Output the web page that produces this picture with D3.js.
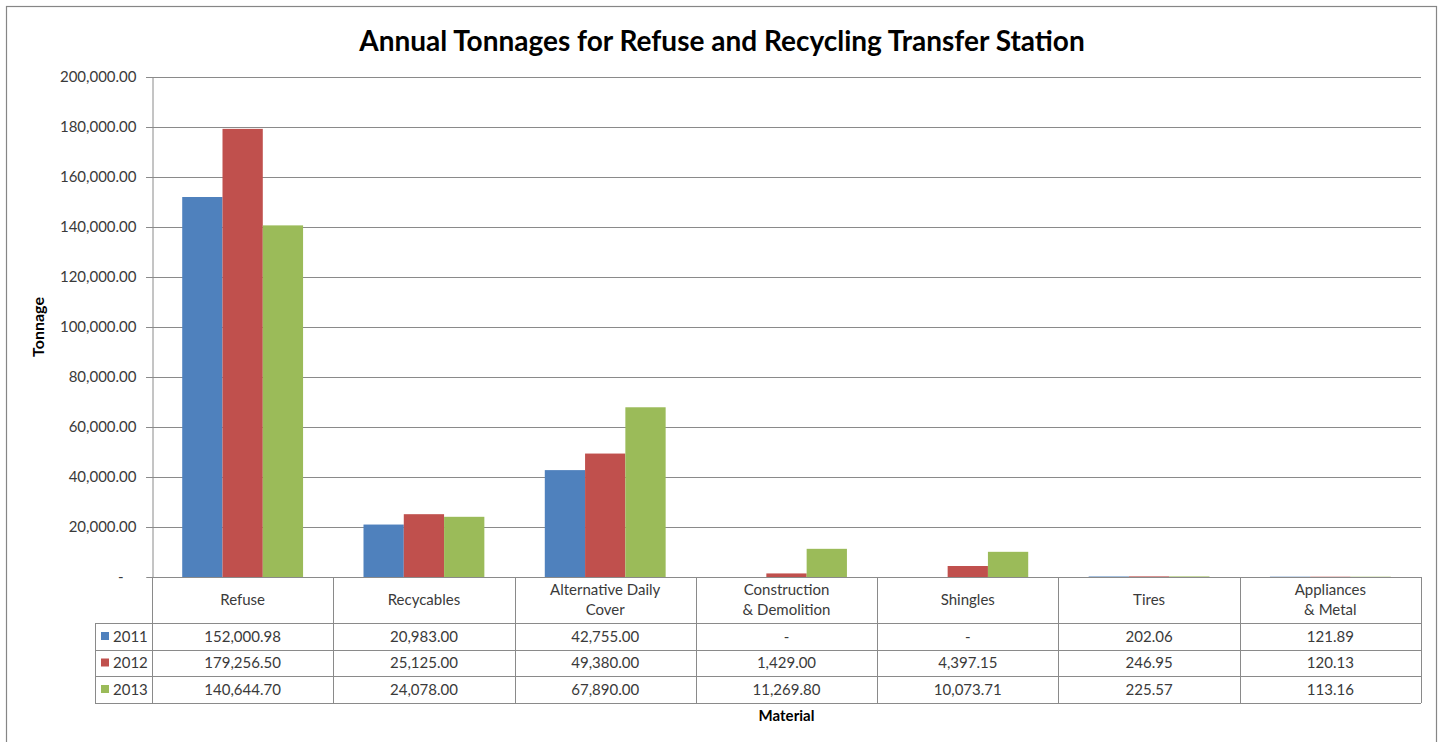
<!DOCTYPE html>
<html lang="en">
<head>
<meta charset="UTF-8">
<title>Annual Tonnages for Refuse and Recycling Transfer Station</title>
<script src="https://cdn.jsdelivr.net/npm/d3@7"></script>
<style>
  body { margin: 0; background: #fff; }
  text { font-family: Lato, "Open Sans", sans-serif; }
</style>
</head>
<body>
<svg id="chart"></svg>
<script>
var width = 1442, height = 742;

var categories = ["Refuse", "Recycables", "Alternative Daily\nCover", "Construction\n& Demolition", "Shingles", "Tires", "Appliances\n& Metal"];
var years = ["2011", "2012", "2013"];
var v2011 = [152000.98, 20983.00, 42755.00, 0, 0, 202.06, 121.89];
var v2012 = [179256.50, 25125.00, 49380.00, 1429.00, 4397.15, 246.95, 120.13];
var v2013 = [140644.70, 24078.00, 67890.00, 11269.80, 10073.71, 225.57, 113.16];
var yTicks = [0, 20000, 40000, 60000, 80000, 100000, 120000, 140000, 160000, 180000, 200000];
var colors = ["#4F81BD", "#C0504D", "#9BBB59"];

var series = [v2011, v2012, v2013];

var plot = { left: 152, right: 1421, top: 77, bottom: 577 };
var rowH = [46, 27, 26, 27];   // header row then one row per year
var legendLeft = 95;

var svg = d3.select("#chart").attr("width", width).attr("height", height);

// outer chart border
svg.append("rect").attr("x", 6.5).attr("y", 6.5).attr("width", 1430).attr("height", 760)
  .attr("fill", "#fff").attr("stroke", "#868686").attr("stroke-width", 1.2);

svg.append("text").attr("x", 722).attr("y", 51).attr("text-anchor", "middle")
  .attr("font-size", 28).attr("font-weight", "bold").attr("fill", "#000")
  .text("Annual Tonnages for Refuse and Recycling Transfer Station");

var y = d3.scaleLinear().domain([0, 200000]).range([plot.bottom, plot.top]);
var x0 = d3.scaleBand().domain(categories).range([plot.left, plot.right]).padding(0);
var x1 = d3.scaleBand().domain(years).range([0, x0.bandwidth()]).paddingInner(0).paddingOuter(0.75);

var fmt = d3.format(",.2f");

// gridlines
svg.append("g").selectAll("line").data(yTicks.filter(function(d) { return d > 0; }))
  .enter().append("line")
  .attr("x1", plot.left - 6).attr("x2", plot.right)
  .attr("y1", function(d) { return Math.round(y(d)) + 0.5; })
  .attr("y2", function(d) { return Math.round(y(d)) + 0.5; })
  .attr("stroke", "#8a8a8a").attr("stroke-width", 1);

// y axis
var yAxis = d3.axisLeft(y).tickValues(yTicks).tickSize(6).tickPadding(10)
  .tickFormat(function(d) { return d === 0 ? "-" : fmt(d); });
var gy = svg.append("g").attr("transform", "translate(" + (plot.left + 0.5) + ",0)").call(yAxis);
gy.select(".domain").attr("stroke", "#8a8a8a");
gy.selectAll(".tick line").attr("stroke", "#8a8a8a");
gy.selectAll(".tick text").attr("font-family", "Lato, sans-serif").attr("font-size", 15).attr("fill", "#3a3a3a");
gy.selectAll(".tick text").filter(function(d) { return d === 0; }).attr("dx", -13);

svg.append("text").attr("transform", "translate(44," + ((plot.top + plot.bottom) / 2) + ") rotate(-90)")
  .attr("text-anchor", "middle").attr("font-size", 16).attr("font-weight", "bold").attr("fill", "#000")
  .text("Tonnage");

// bars
var groups = svg.append("g").selectAll("g").data(years).enter().append("g")
  .attr("fill", function(d, i) { return colors[i]; });
groups.selectAll("rect").data(function(d, i) {
    return categories.map(function(c, j) { return { cat: c, year: d, value: series[i][j] }; });
  })
  .enter().append("rect")
  .attr("x", function(d) { return x0(d.cat) + x1(d.year); })
  .attr("width", x1.bandwidth())
  .attr("y", function(d) { return y(d.value); })
  .attr("height", function(d) { return y(0) - y(d.value); });

// data table
var rowY = [plot.bottom];
rowH.forEach(function(h) { rowY.push(rowY[rowY.length - 1] + h); });
var table = svg.append("g").attr("stroke", "#8a8a8a").attr("stroke-width", 1);

// horizontal lines
table.append("line").attr("x1", plot.left).attr("x2", plot.right).attr("y1", rowY[0] + 0.5).attr("y2", rowY[0] + 0.5);
rowY.slice(1).forEach(function(yy) {
  table.append("line").attr("x1", legendLeft).attr("x2", plot.right).attr("y1", yy + 0.5).attr("y2", yy + 0.5);
});
// vertical lines
table.append("line").attr("x1", legendLeft + 0.5).attr("x2", legendLeft + 0.5).attr("y1", rowY[1]).attr("y2", rowY[4]);
categories.forEach(function(c) {
  var xx = Math.round(x0(c)) + 0.5;
  table.append("line").attr("x1", xx).attr("x2", xx).attr("y1", rowY[0]).attr("y2", rowY[4]);
});
table.append("line").attr("x1", plot.right + 0.5).attr("x2", plot.right + 0.5).attr("y1", rowY[0]).attr("y2", rowY[4]);

// header labels
categories.forEach(function(c) {
  var lines = c.split("\n");
  var cx = x0(c) + x0.bandwidth() / 2;
  var midY = rowY[0] + rowH[0] / 2;
  var t = svg.append("text").attr("text-anchor", "middle").attr("font-size", 15).attr("fill", "#3a3a3a");
  lines.forEach(function(l, k) {
    t.append("tspan").attr("x", cx)
      .attr("y", midY + 5 + (k - (lines.length - 1) / 2) * 20)
      .text(l);
  });
});

// value rows with legend keys
years.forEach(function(yr, i) {
  var cy = rowY[i + 1] + rowH[i + 1] / 2;
  svg.append("rect").attr("x", 101).attr("y", cy - 4.5).attr("width", 8).attr("height", 8).attr("fill", colors[i]);
  svg.append("text").attr("x", 113).attr("y", cy + 5).attr("font-size", 15).attr("fill", "#3a3a3a").text(yr);
  categories.forEach(function(c, j) {
    var v = series[i][j];
    svg.append("text").attr("x", x0(c) + x0.bandwidth() / 2).attr("y", cy + 5)
      .attr("text-anchor", "middle").attr("font-size", 15).attr("fill", "#3a3a3a")
      .text(v === 0 ? "-" : fmt(v));
  });
});

svg.append("text").attr("x", (plot.left + plot.right) / 2).attr("y", 721)
  .attr("text-anchor", "middle").attr("font-size", 15).attr("font-weight", "bold").attr("fill", "#000")
  .text("Material");
</script>
</body>
</html>
